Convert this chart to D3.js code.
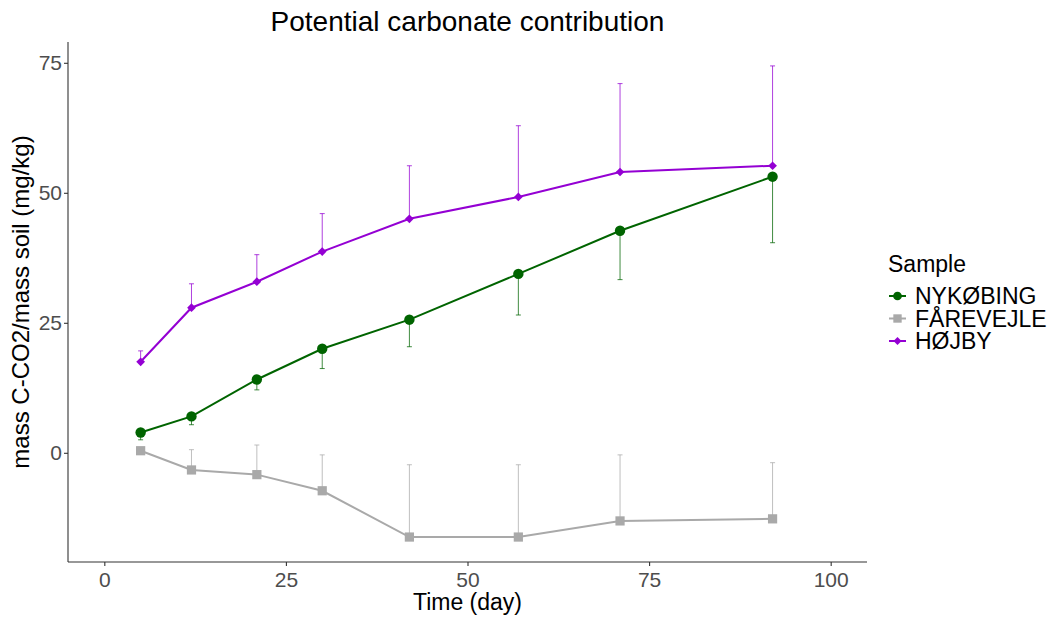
<!DOCTYPE html>
<html>
<head>
  <meta charset="UTF-8">
  <title>Potential carbonate contribution</title>
  <style>
    body { margin: 0; background: #fff; }
    text { font-family: "Liberation Sans", Arial, sans-serif; }
  </style>
</head>
<body>
  <div class="svg-zone"></div>
  <script src="https://d3js.org/d3.v7.min.js"></script>
  <script type="text/javascript">
  // sampling days
  var days = [5, 12, 21, 30, 42, 57, 71, 92];
  var samples = ["NYKØBING", "FÅREVEJLE", "HØJBY"];
  var colors = ["#006400", "#A9A9A9", "#9400D3"];
  // the diamond is a square turned 45 degrees, like ggplot's shape 18
  var shapes = [d3.symbolCircle, d3.symbolSquare, d3.symbolSquare];
  var turns = [0, 0, 45];

  var nykobing = [3.9, 7.0, 14.1, 20.0, 25.6, 34.4, 42.7, 53.1];
  var nykobingErr = [2.5, 5.4, 12.1, 16.2, 20.4, 26.5, 33.3, 40.4];
  var farevejle = [0.4, -3.3, -4.2, -7.3, -16.2, -16.2, -13.1, -12.7];
  var farevejleErr = [0.6, 0.6, 1.5, -0.4, -2.3, -2.3, -0.4, -1.9];
  var hojby = [17.5, 27.9, 32.9, 38.7, 45.0, 49.2, 54.0, 55.2];
  var hojbyErr = [19.6, 32.5, 38.1, 46.0, 55.2, 62.9, 71.0, 74.4];

  var xTicks = [0, 25, 50, 75, 100];
  var yTicks = [0, 25, 50, 75];

  var series = [
    { name: samples[0], vals: nykobing, err: nykobingErr },
    { name: samples[1], vals: farevejle, err: farevejleErr },
    { name: samples[2], vals: hojby, err: hojbyErr }
  ];

  var width = 1056, height = 618;
  var pLeft = 68, pRight = 867, pTop = 42, pBottom = 562;

  var x = d3.scaleLinear().domain([-5, 105]).range([pLeft, pRight]);
  var y = d3.scaleLinear().domain([-21, 79]).range([pBottom, pTop]);

  var svg = d3.select(".svg-zone").append("svg")
    .attr("width", width)
    .attr("height", height);

  // axes
  var xAxis = svg.append("g")
    .attr("transform", "translate(0," + pBottom + ")")
    .call(d3.axisBottom(x).tickValues(xTicks).tickSize(4).tickPadding(6).tickSizeOuter(0));
  var yAxis = svg.append("g")
    .attr("transform", "translate(" + pLeft + ",0)")
    .call(d3.axisLeft(y).tickValues(yTicks).tickSize(4).tickPadding(2).tickSizeOuter(0));

  [xAxis, yAxis].forEach(function (a) {
    a.select(".domain").attr("stroke", "#333").attr("stroke-width", 1.1);
    a.selectAll(".tick line").attr("stroke", "#333").attr("stroke-width", 1.1);
    a.selectAll(".tick text")
      .attr("fill", "#4D4D4D")
      .style("font-size", "21px")
      .style("font-family", "'Liberation Sans', Arial, sans-serif");
  });
  // stretch the axis lines to the panel edges
  xAxis.select(".domain").attr("d", "M" + pLeft + ",0H" + pRight);
  yAxis.select(".domain").attr("d", "M0," + pTop + "V" + pBottom);

  var line = d3.line()
    .x(function (d) { return x(d[0]); })
    .y(function (d) { return y(d[1]); });

  series.forEach(function (s, i) {
    var g = svg.append("g");
    var pts = days.map(function (d, j) { return [d, s.vals[j], s.err[j]]; });

    // one-sided error bars
    g.selectAll(".err").data(pts).enter().append("path")
      .attr("fill", "none")
      .attr("stroke", colors[i])
      .attr("stroke-opacity", 0.75)
      .attr("stroke-width", 1)
      .attr("d", function (d) {
        var cx = x(d[0]);
        return "M" + cx + "," + y(d[1]) + "V" + y(d[2]) +
          "M" + (cx - 2.5) + "," + y(d[2]) + "H" + (cx + 2.5);
      });

    g.append("path")
      .datum(pts)
      .attr("fill", "none")
      .attr("stroke", colors[i])
      .attr("stroke-width", 2)
      .attr("d", line);

    var sz = [85, 85, 38][i];
    g.selectAll(".pt").data(pts).enter().append("path")
      .attr("transform", function (d) {
        return "translate(" + x(d[0]) + "," + y(d[1]) + ") rotate(" + turns[i] + ")";
      })
      .attr("d", d3.symbol().type(shapes[i]).size(sz))
      .attr("fill", colors[i]);
  });

  // title and axis labels
  svg.append("text")
    .attr("x", (pLeft + pRight) / 2).attr("y", 31)
    .attr("text-anchor", "middle")
    .style("font-size", "28px")
    .text("Potential carbonate contribution");

  svg.append("text")
    .attr("x", (pLeft + pRight) / 2).attr("y", 610)
    .attr("text-anchor", "middle")
    .style("font-size", "23px")
    .text("Time (day)");

  svg.append("text")
    .attr("transform", "translate(29," + (pTop + pBottom) / 2 + ") rotate(-90)")
    .attr("text-anchor", "middle")
    .style("font-size", "24px")
    .text("mass C-CO2/mass soil (mg/kg)");

  // legend
  var legend = svg.append("g").attr("transform", "translate(888,0)");
  legend.append("text")
    .attr("x", 0).attr("y", 272)
    .style("font-size", "23px")
    .text("Sample");

  samples.forEach(function (name, i) {
    var cy = 296 + i * 22.5;
    legend.append("line")
      .attr("x1", 1).attr("x2", 18).attr("y1", cy).attr("y2", cy)
      .attr("stroke", colors[i]).attr("stroke-width", 2);
    legend.append("path")
      .attr("transform", "translate(9.5," + cy + ") rotate(" + turns[i] + ")")
      .attr("d", d3.symbol().type(shapes[i]).size([60, 70, 32][i]))
      .attr("fill", colors[i]);
    legend.append("text")
      .attr("x", 27).attr("y", cy + 8)
      .style("font-size", "23px")
      .text(name);
  });
  </script>
</body>
</html>
